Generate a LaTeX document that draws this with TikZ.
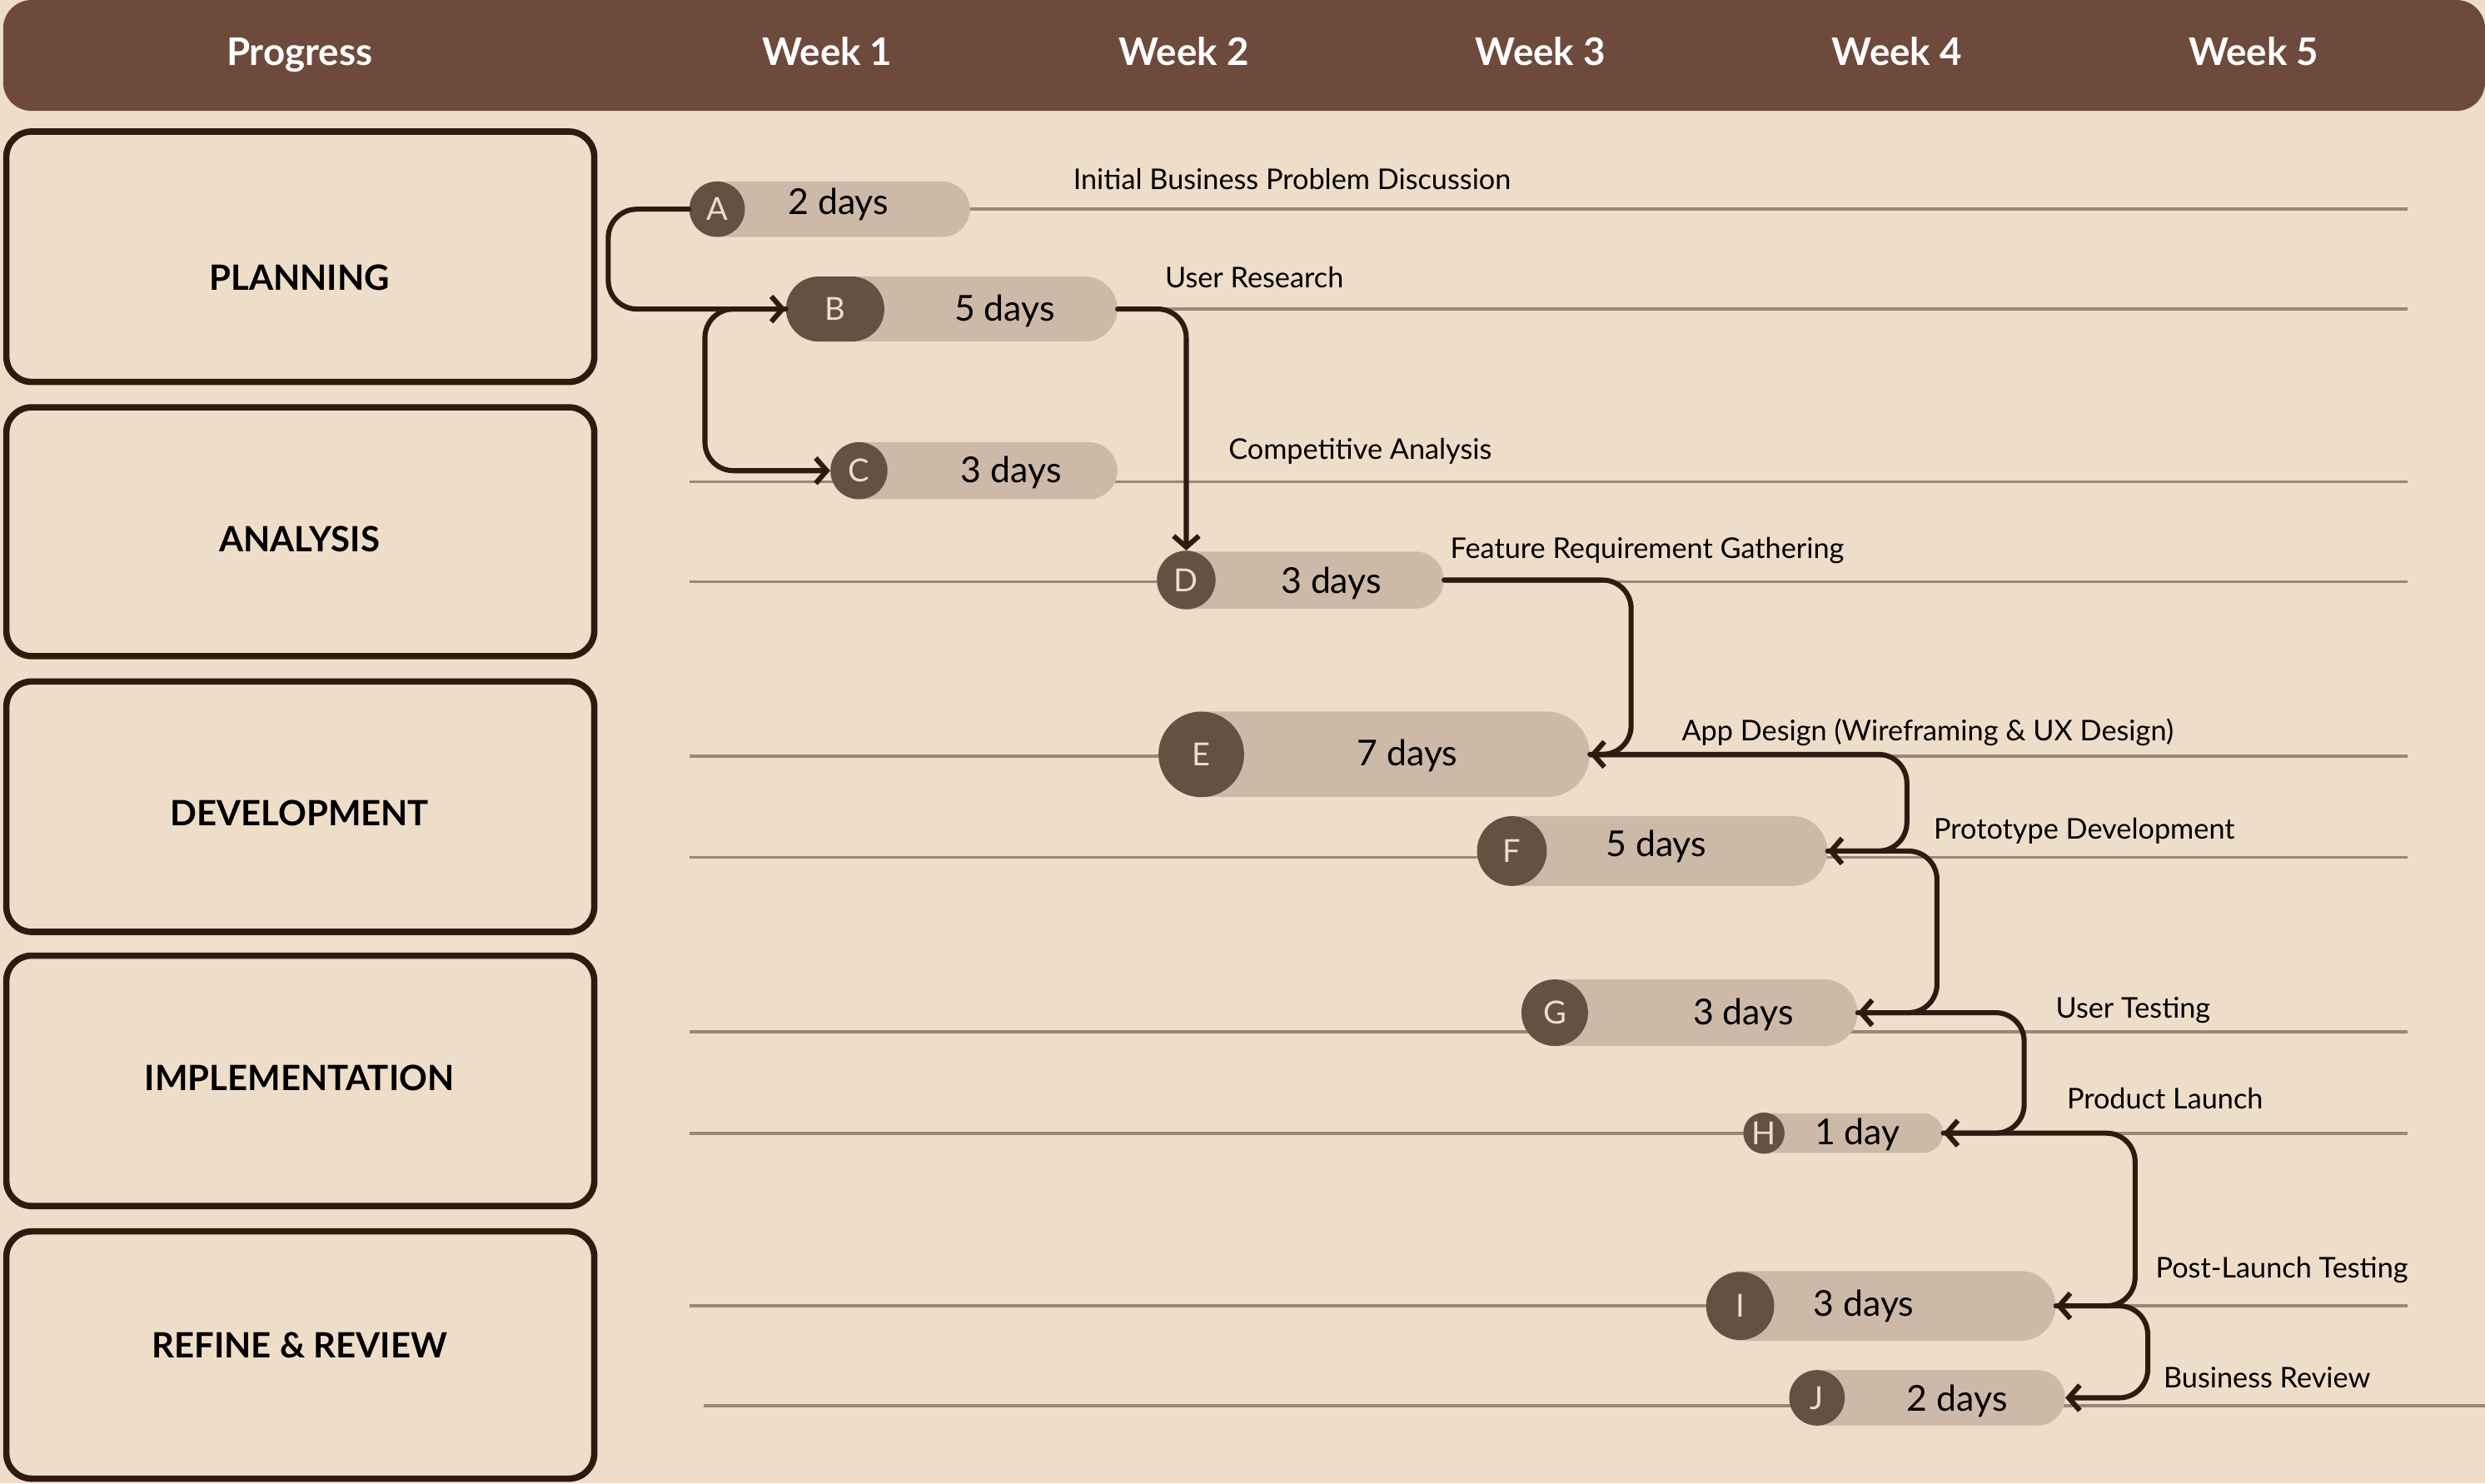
\documentclass[tikz,border=0pt]{standalone}
\usepackage{fontspec}
\setmainfont{Lato}
\usetikzlibrary{arrows.meta,shapes.misc}
\definecolor{paper}{RGB}{238,221,200}
\definecolor{cocoa}{RGB}{110,74,61}
\definecolor{ink}{RGB}{47,26,16}
\definecolor{sand}{RGB}{205,185,167}
\definecolor{bark}{RGB}{101,81,66}
\definecolor{rail}{RGB}{157,134,116}

\begin{document}
\begin{tikzpicture}[x=1pt,y=-1pt,
    phasebox/.style={draw=ink,line width=4pt,rounded corners=16pt},
    phasetxt/.style={font=\fontsize{22}{22}\selectfont\bfseries,text=black},
    headtxt/.style={font=\fontsize{24}{24}\selectfont\bfseries,text=white,anchor=base},
    pill/.style={rounded rectangle,fill=sand,inner sep=0pt},
    dot/.style={rounded rectangle,fill=bark,inner sep=0pt,text=paper,font=\fontsize{20}{20}\selectfont},
    days/.style={font=\fontsize{22.5}{22.5}\selectfont,text=black,inner sep=0pt},
    task/.style={font=\fontsize{18}{18}\selectfont,text=black,inner sep=0pt},
    link/.style={draw=ink,line width=3.2pt,rounded corners=18pt,line cap=round,line join=round,
      -{Straight Barb[length=7pt,width=16pt]}}]
    \clip (0,0) rectangle (1568,936);
    \fill[paper] (0,0) rectangle (1568,936);
    \fill[cocoa,rounded corners=18pt] (2,0) rectangle (1568,70);
    \foreach \t/\x [count=\i] in {Progress/189,Week 1/522,Week 2/747,Week 3/972,Week 4/1197,Week 5/1422}
      \node[headtxt] (h\i) at (\x,41.5) {\t};
    \foreach \t/\ya/\yb/\ty [count=\i] in {PLANNING/83/241/175,ANALYSIS/257/414/340,DEVELOPMENT/430/588/513,
      IMPLEMENTATION/603/761/680,REFINE \& REVIEW/777/933/849}
    {
      \draw[phasebox] (4,\ya) rectangle (375,\yb);
      \node[phasetxt] (ph\i) at (189,\ty) {\t};
    }
    \foreach \y/\xs/\xe in {132/435/1519,195/496/1519,304/435/1519,367/435/1519,477/435/1519,
      541/435/1519,651/435/1519,715/435/1519,824/435/1519,887/444/1568}
      \draw[rail,line width=2pt] (\xs,\y) -- (\xe,\y);
    \foreach \l/\xa/\xb/\y/\h/\dx/\dw/\dh/\tx/\ty/\dd in {
      A/435/612/132/35/452.5/35/35/529/129/2 days,
      B/496/705/195/41/527/62/41/634/196/5 days,
      C/524/705/297/36/542/36/36/638/298/3 days,
      D/730/911/366/36/748.5/37/37/840/368/3 days,
      E/731/1003/476/54/758/54/54/888/477/7 days,
      F/932/1153/537/44/954/44/44/1045/534/5 days,
      G/960/1172/639/42/981/42/42/1100/640/3 days,
      H/1101/1226/715/25/1113/26/26/1172/716/1 day,
      I/1077/1297/824/44/1098/43/43/1176/824/3 days,
      J/1129/1303/882/35/1146.5/35/35/1235/884/2 days}
    {
      \node[pill,minimum width=\xb-\xa,minimum height=\h] (p\l) at ({(\xa+\xb)/2},\y) {};
      \node[dot,minimum width=\dw,minimum height=\dh] (d\l) at (\dx,\y) {\makebox[0pt]{\l}};
      \node[days] (t\l) at (\tx,\ty) {\dd};
    }
    \foreach \l/\lx/\ly/\txt in {A/677/113/Initial Business Problem Discussion,B/735/175/User Research,
      C/775/283/Competitive Analysis,D/915/346/Feature Requirement Gathering,
      E/1061/461/App Design (Wireframing \& UX Design),F/1220/523/Prototype Development,
      G/1297/636/User Testing,H/1304/693/Product Launch,I/1360/800/Post-Launch Testing,
      J/1365/869/Business Review}
      \node[task,anchor=mid west] (n\l) at (\lx,\ly+4) {\txt};
    \draw[link] (pA.west) -- ++(-51,0) |- (pB.west);
    \draw[link] (pB.west) -- ++(-51,0) |- (pC.west);
    \draw[link] (pB.east) -| (dD.north);
    \draw[link] (pD.east) -- ++(118,0) |- (pE.east);
    \draw[link] (pE.east) -- ++(200,0) |- (pF.east);
    \draw[link] (pF.east) -- ++(69,0) |- (pG.east);
    \draw[link] (pG.east) -- ++(105,0) |- (pH.east);
    \draw[link] (pH.east) -- ++(121,0) |- (pI.east);
    \draw[link] (pI.east) -- ++(58,0) |- (pJ.east);
\end{tikzpicture}
\end{document}
